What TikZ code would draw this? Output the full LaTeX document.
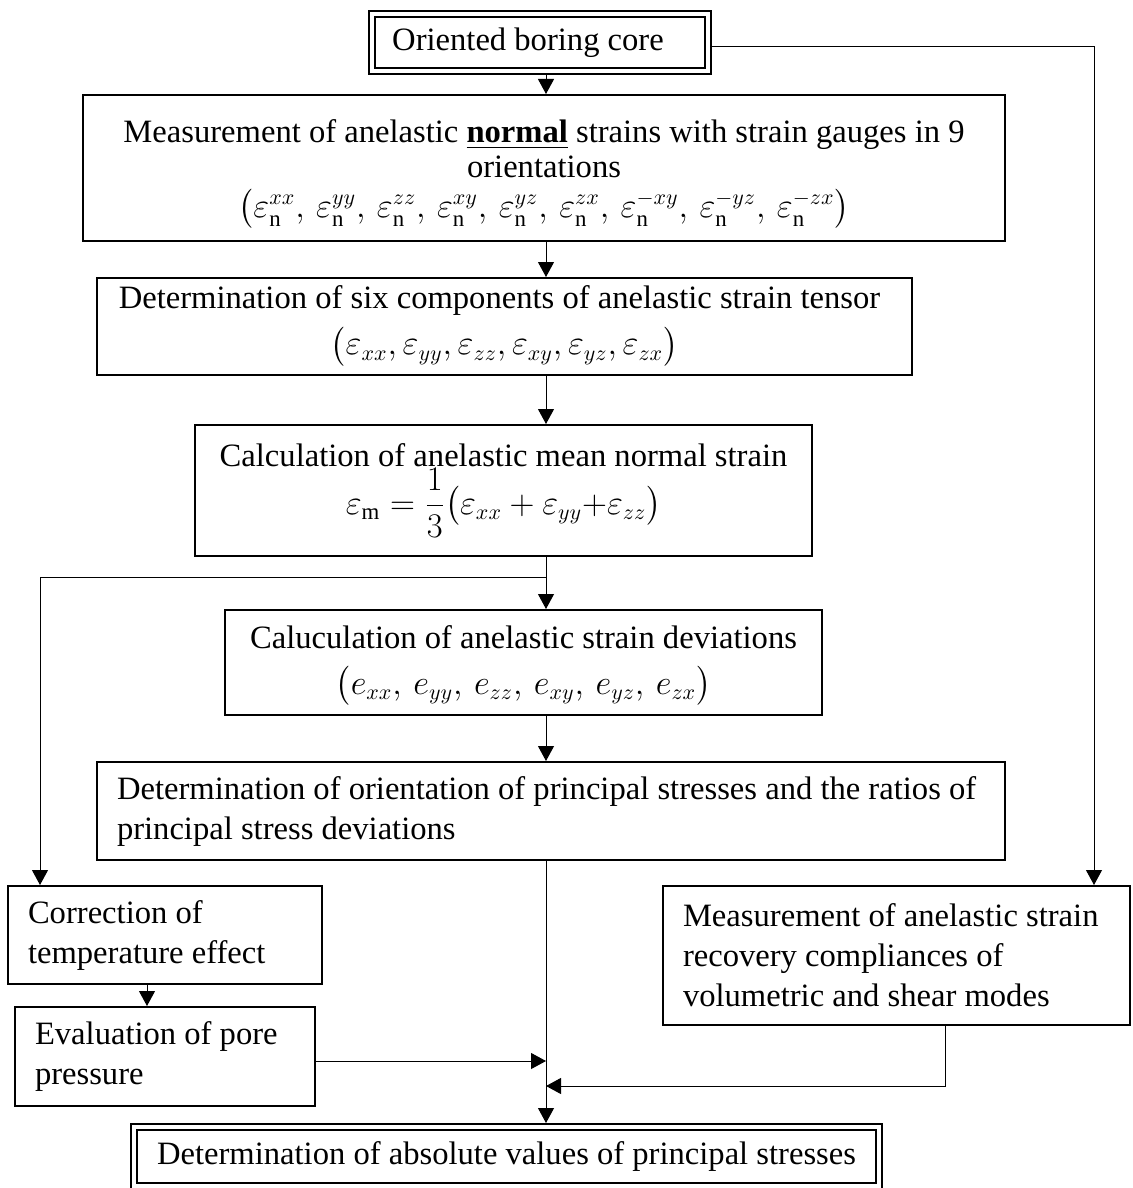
\documentclass[tikz,border=0pt]{standalone}
\usepackage{amsmath}
\usepackage{amssymb}
\usepackage{fontspec}
\setmainfont{Liberation Serif}
\usepackage{tikz}
\usetikzlibrary{arrows.meta,positioning}

\tikzset{
  box/.style={draw, rectangle, line width=1pt, align=center, inner sep=0pt},
  lbox/.style={draw, rectangle, line width=1pt, align=flush left, inner xsep=10pt, inner ysep=0pt},
  dbox/.style={draw, rectangle, line width=1pt, double, double distance=2pt, outer sep=2pt, align=center, inner sep=0pt},
  arr/.style={-{Triangle[length=7.5pt,width=8pt]}, line width=0.5pt}
}

\begin{document}
\begin{tikzpicture}[x=0.5pt,y=-0.5pt,font=\fontsize{16.3}{20}\selectfont]
        \useasboundingbox (0,0) rectangle (1132,1188);
        % main column
        \node [dbox, minimum width=168pt, minimum height=28.5pt] (core) at (540,42.5) {Oriented boring core\hspace*{12pt}};
        \node [box, minimum width=461pt, minimum height=73pt] (meas) at (544,168)
          {\rule{0pt}{18pt}Measurement of anelastic \textbf{\underline{normal}} strains with strain gauges in 9\\[-2.5pt]
           orientations\\
           $\bigl(\varepsilon_{\mathrm{n}}^{xx},\,\varepsilon_{\mathrm{n}}^{yy},\,\varepsilon_{\mathrm{n}}^{zz},\,
           \varepsilon_{\mathrm{n}}^{xy},\,\varepsilon_{\mathrm{n}}^{yz},\,\varepsilon_{\mathrm{n}}^{zx},\,
           \varepsilon_{\mathrm{n}}^{-xy},\,\varepsilon_{\mathrm{n}}^{-yz},\,\varepsilon_{\mathrm{n}}^{-zx}\bigr)$};
        \node [box, minimum width=407.5pt, minimum height=48.5pt] (six) at (504.5,326.5)
          {Determination of six components of anelastic strain tensor\hspace*{5pt}\\[3pt]
           $\bigl(\varepsilon_{xx},\varepsilon_{yy},\varepsilon_{zz},\varepsilon_{xy},\varepsilon_{yz},\varepsilon_{zx}\bigr)$};
        \node [box, minimum width=308.5pt, minimum height=65.5pt] (mean) at (503.5,490.5)
          {Calculation of anelastic mean normal strain\\
           $\varepsilon_{\mathrm{m}}=\dfrac{1}{3}\bigl(\varepsilon_{xx}+\varepsilon_{yy}{+}\varepsilon_{zz}\bigr)$};
        \node [box, minimum width=298.5pt, minimum height=52.5pt] (dev) at (523.5,662.5)
          {\rule{0pt}{15pt}Caluculation of anelastic strain deviations\\[3pt]
           $\bigl(e_{xx},\,e_{yy},\,e_{zz},\,e_{xy},\,e_{yz},\,e_{zx}\bigr)$};
        \node [lbox, text width=434pt, minimum height=49pt] (ori) at (551,811)
          {Determination of orientation of principal stresses and the ratios of\\
           principal stress deviations};
        % side boxes
        \node [lbox, text width=137pt, minimum height=49pt] (corr) at (165,935)
          {Correction of\\ temperature effect};
        \node [lbox, text width=130pt, minimum height=49.5pt] (eval) at (165,1056.5)
          {Evaluation of pore\\ pressure};
        \node [lbox, text width=213.5pt, minimum height=69.5pt] (comp) at (896.5,955.5)
          {Measurement of anelastic strain\\ recovery compliances of\\ volumetric and shear modes};
        \node [dbox, minimum width=372.5pt, minimum height=29.5pt] (final) at (506.5,1156.5)
          {Determination of absolute values of principal stresses};

        % connectors
        \coordinate (sp) at (546,0);
        \coordinate (rt) at (1094,0);
        \coordinate (lft) at (40,577);
        \coordinate (br) at (546,577);
        \coordinate (ev) at (147,0);
        \coordinate (j1) at (546,1061);
        \coordinate (cm) at (945,1086);
        \draw [arr] (core.south -| sp) -- (meas.north -| sp);
        \draw [arr] (meas.south -| sp) -- (six.north -| sp);
        \draw [arr] (six.south -| sp) -- (mean.north -| sp);
        \draw [arr] (mean.south -| sp) -- (dev.north -| sp);
        \draw [arr] (br) -- (lft) -- (corr.north -| lft);
        \draw [arr] (dev.south -| sp) -- (ori.north -| sp);
        \draw [arr] (ori.south -| sp) -- (final.north -| sp);
        \draw [arr] ([yshift=-2pt]core.east) -| (comp.north -| rt);
        \draw [arr] (corr.south -| ev) -- (eval.north -| ev);
        \draw [arr] (eval.east |- j1) -- (j1);
        \draw [arr] (comp.south -| cm) -- (cm) -- (cm -| sp);
\end{tikzpicture}
\end{document}
